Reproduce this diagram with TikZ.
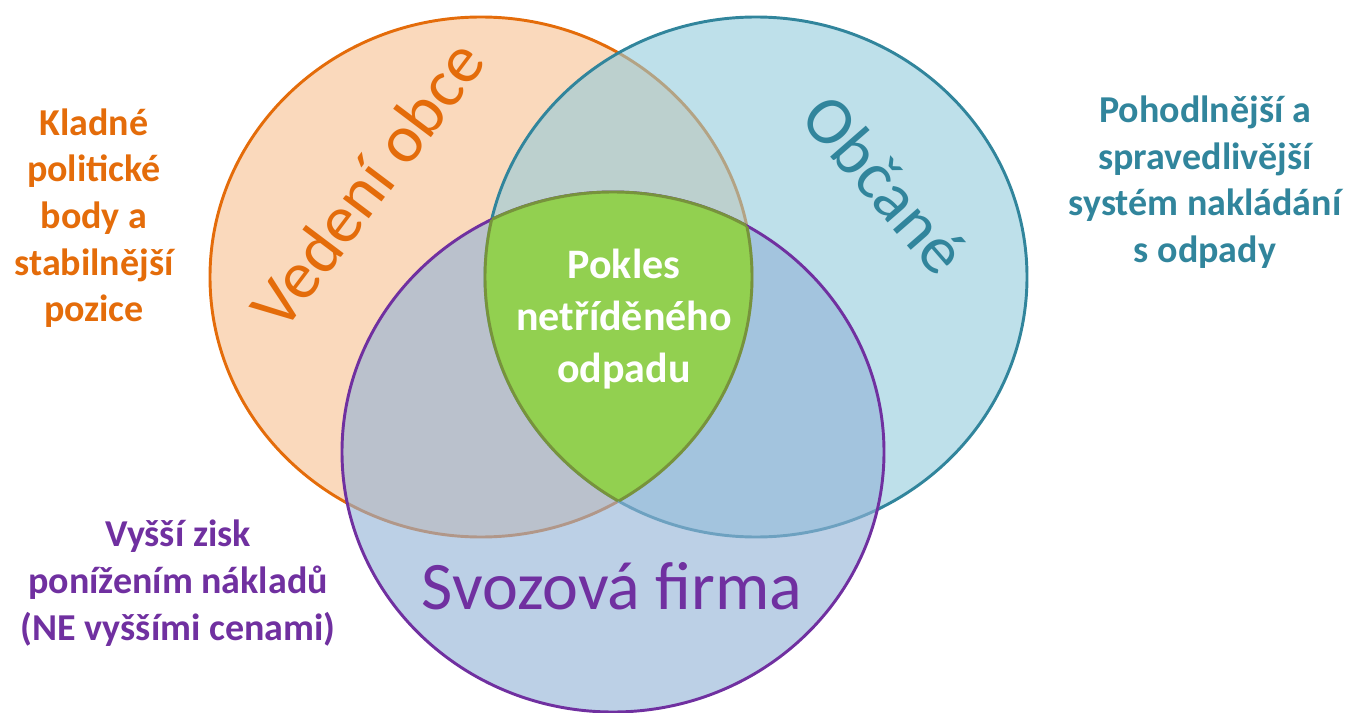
\documentclass[tikz,border=0pt]{standalone}
\usepackage{fontspec}
\setmainfont{Carlito}

\definecolor{obceOrange}{HTML}{E46C0A}
\definecolor{obceFill}{RGB}{250,217,188}
\definecolor{obcanTeal}{HTML}{31859C}
\definecolor{obcanFill}{RGB}{145,202,219}
\definecolor{firmaPurple}{HTML}{7030A0}
\definecolor{firmaFill}{RGB}{147,179,215}
\definecolor{spolGreen}{HTML}{92D050}
\definecolor{spolBorder}{HTML}{77933C}

\tikzset{
  ring/.style={line width=2.2pt},
  ringsize/.style={x radius=271, y radius=260},
  setname/.style={font=\fontsize{51}{60}\selectfont},
  benefit/.style={font=\bfseries\fontsize{28.5}{35}\selectfont, align=center},
  middle/.style={font=\bfseries\fontsize{31.5}{39}\selectfont, align=center, text=white},
}

\begin{document}
\begin{tikzpicture}[x=0.75pt, y=-0.75pt]
    \useasboundingbox (0,0) rectangle (1352,713);

    % Centres of the three sets
    \coordinate (obce) at (481,277);
    \coordinate (obcane) at (756,277);
    \coordinate (firma) at (613,452);

    % Sets
    \filldraw[ring, draw=obceOrange, fill=obceFill] (obce) ellipse [ringsize];
    \filldraw[ring, draw=obcanTeal, fill=obcanFill, fill opacity=0.59] (obcane) ellipse [ringsize];
    \filldraw[ring, draw=firmaPurple, fill=firmaFill, fill opacity=0.62] (firma) ellipse [ringsize];

    % Common part
    \begin{scope}
      \clip (obce) ellipse [ringsize];
      \clip (obcane) ellipse [ringsize];
      \fill[spolGreen] (firma) ellipse [ringsize];
      \draw[ring, spolBorder] (firma) ellipse [ringsize];
    \end{scope}
    \begin{scope}
      \clip (obce) ellipse [ringsize];
      \clip (firma) ellipse [ringsize];
      \draw[ring, spolBorder] (obcane) ellipse [ringsize];
    \end{scope}
    \begin{scope}
      \clip (obcane) ellipse [ringsize];
      \clip (firma) ellipse [ringsize];
      \draw[ring, spolBorder] (obce) ellipse [ringsize];
    \end{scope}

    % Set names
    \node[setname, text=obceOrange, rotate=53] (vedeni) at (367,184) {Vedení obce};
    \node[setname, text=obcanTeal, rotate=-49] (obcaneName) at (885,184) {Občané};
    \node[setname, text=firmaPurple, anchor=base] (svozova) at (612,609) {Svozová firma};
    \node[middle] (pokles) at (624,319) {Pokles\\netříděného\\odpadu};

    % Benefits
    \node[benefit, text=obceOrange] (obceGain) at (94,218) {Kladné\\politické\\body a\\stabilnější\\pozice};
    \node[benefit, text=obcanTeal] (obcaneGain) at (1205,182) {Pohodlnější a\\spravedlivější\\systém nakládání\\s odpady};
    \node[benefit, text=firmaPurple] (firmaGain) at (178,583) {Vyšší zisk\\ponížením nákladů\\(NE vyššími cenami)};
\end{tikzpicture}
\end{document}
